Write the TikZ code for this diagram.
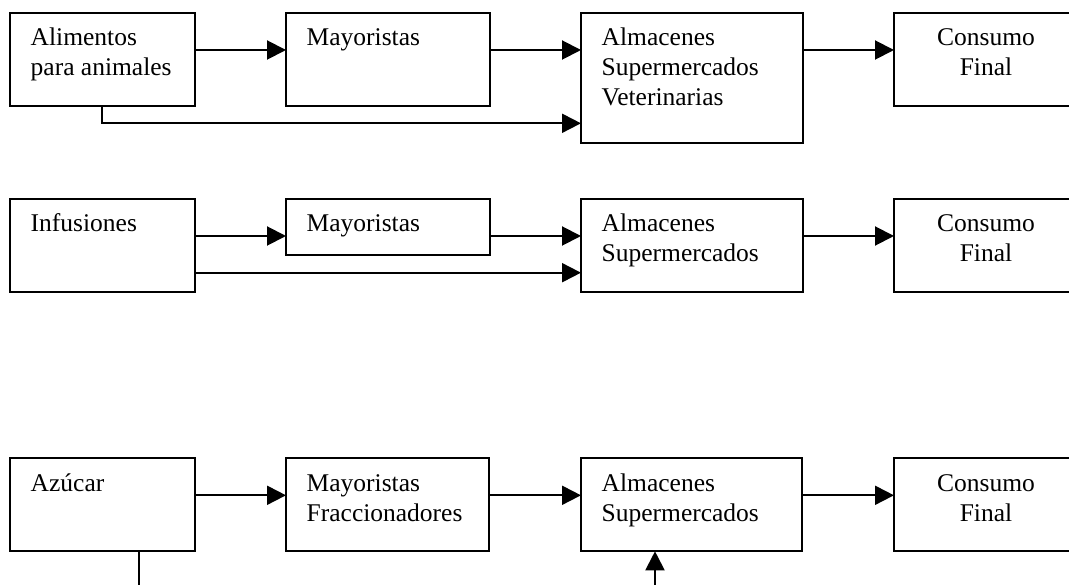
\documentclass[tikz,border=0pt]{standalone}
\usepackage{fontspec}
\setmainfont{Liberation Serif}
\usetikzlibrary{arrows.meta}
\begin{document}
\begin{tikzpicture}[x=1pt,y=-1pt,
  box/.style={draw, line width=2pt, rectangle, inner sep=0pt, outer sep=0pt, anchor=north west},
  txt/.style={font=\fontsize{25.5pt}{30pt}\selectfont, inner sep=0pt, outer sep=0pt, align=left, anchor=north west},
  ctxt/.style={font=\fontsize{25.5pt}{30pt}\selectfont, inner sep=0pt, outer sep=0pt, align=center, anchor=north},
  arr/.style={line width=2pt, -{Triangle[length=19pt,width=19pt]}},
  ln/.style={line width=2pt}]
\useasboundingbox (0,0) rectangle (1069,585);
\fill[white] (0,0) rectangle (1069,585);
\clip (0,0) rectangle (1069,585);

% Row 1
\node[box, minimum width=185.3pt, minimum height=93.3pt] (ali) at (9.7,12.7) {};
\node[box, minimum width=204pt, minimum height=93.3pt] (may1) at (286,12.7) {};
\node[box, minimum width=222pt, minimum height=130pt] (alm1) at (581,12.7) {};
\node[box, minimum width=184pt, minimum height=93.3pt] (con1) at (894,12.7) {};

\node[txt] (tali) at ([xshift=21pt,yshift=-12pt]ali.north west) {\strut Alimentos\\para animales};
\node[txt] (tmay1) at ([xshift=20.7pt,yshift=-12pt]may1.north west) {\strut Mayoristas};
\node[txt] (talm1) at ([xshift=20.7pt,yshift=-12pt]alm1.north west) {\strut Almacenes\\Supermercados\\Veterinarias};
\node[ctxt] (tcon1) at ([yshift=-12pt]con1.north) {\strut Consumo\\Final};

\draw[arr] ([yshift=-37.3pt]ali.north east) -- ([yshift=-37.3pt]may1.north west);
\draw[arr] ([yshift=-37.3pt]may1.north east) -- ([yshift=-37.3pt]alm1.north west);
\draw[arr] ([yshift=-37.3pt]alm1.north east) -- ([yshift=-37.3pt]con1.north west);
\draw[arr] ([xshift=92.3pt]ali.south west) |- ([yshift=-110.6pt]alm1.north west);

% Row 2
\node[box, minimum width=185.3pt, minimum height=92.7pt] (inf) at (9.7,199) {};
\node[box, minimum width=204pt, minimum height=56pt] (may2) at (286,199) {};
\node[box, minimum width=222pt, minimum height=92.7pt] (alm2) at (581,199) {};
\node[box, minimum width=184pt, minimum height=92.7pt] (con2) at (894,199) {};

\node[txt] (tinf) at ([xshift=21pt,yshift=-12pt]inf.north west) {\strut Infusiones};
\node[txt] (tmay2) at ([xshift=20.7pt,yshift=-12pt]may2.north west) {\strut Mayoristas};
\node[txt] (talm2) at ([xshift=20.7pt,yshift=-12pt]alm2.north west) {\strut Almacenes\\Supermercados};
\node[ctxt] (tcon2) at ([yshift=-12pt]con2.north) {\strut Consumo\\Final};

\draw[arr] ([yshift=-37pt]inf.north east) -- ([yshift=-37pt]may2.north west);
\draw[arr] ([yshift=-37pt]may2.north east) -- ([yshift=-37pt]alm2.north west);
\draw[arr] ([yshift=-37pt]alm2.north east) -- ([yshift=-37pt]con2.north west);
\draw[arr] ([yshift=-73.7pt]inf.north east) -- ([yshift=-73.7pt]alm2.north west);

% Row 3
\node[box, minimum width=185.3pt, minimum height=93pt] (azu) at (9.7,458.3) {};
\node[box, minimum width=203pt, minimum height=93pt] (may3) at (286,458.3) {};
\node[box, minimum width=221pt, minimum height=93pt] (alm3) at (581,458.3) {};
\node[box, minimum width=184pt, minimum height=93pt] (con3) at (894,458.3) {};

\node[txt] (tazu) at ([xshift=21pt,yshift=-12pt]azu.north west) {\strut Azúcar};
\node[txt] (tmay3) at ([xshift=20.7pt,yshift=-12pt]may3.north west) {\strut Mayoristas\\Fraccionadores};
\node[txt] (talm3) at ([xshift=20.7pt,yshift=-12pt]alm3.north west) {\strut Almacenes\\Supermercados};
\node[ctxt] (tcon3) at ([yshift=-12pt]con3.north) {\strut Consumo\\Final};

\draw[arr] ([yshift=-37pt]azu.north east) -- ([yshift=-37pt]may3.north west);
\draw[arr] ([yshift=-37pt]may3.north east) -- ([yshift=-37pt]alm3.north west);
\draw[arr] ([yshift=-37pt]alm3.north east) -- ([yshift=-37pt]con3.north west);

\coordinate (azuend) at (139,595);
\coordinate (almstart) at (655,595);
\draw[ln] ([xshift=129.3pt]azu.south west) -- (azuend);
\draw[arr] (almstart) -- ([xshift=74pt]alm3.south west);
\end{tikzpicture}
\end{document}
